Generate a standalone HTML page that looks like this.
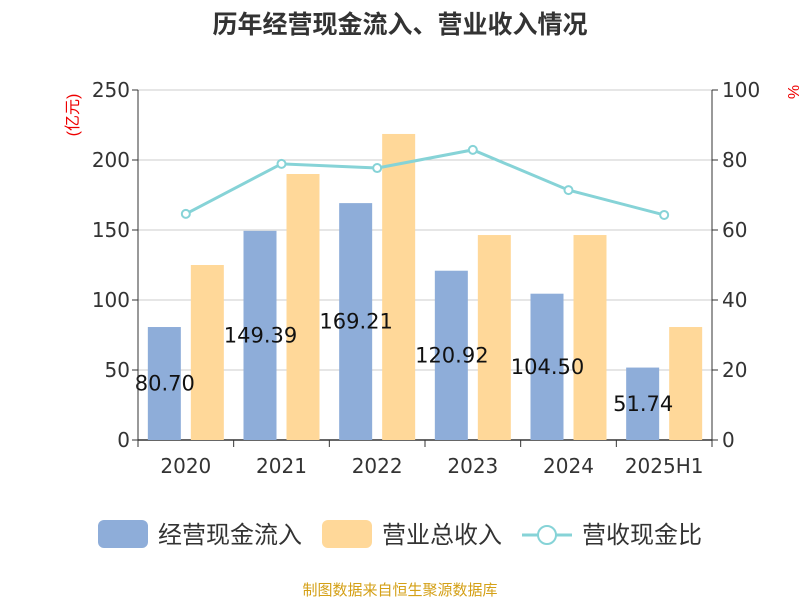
<!DOCTYPE html>
<html><head><meta charset="utf-8"><style>
body{margin:0;background:#fff;}
svg text{font-family:"DejaVu Sans","Noto Sans CJK SC",sans-serif;}
svg text.cjk{font-family:"Liberation Sans","Noto Sans CJK SC",sans-serif;}
</style></head><body>
<svg width="800" height="600" id="c">
<text class="cjk" x="400" y="33" text-anchor="middle" font-size="25" font-weight="bold" fill="#333">历年经营现金流入、营业收入情况</text>
<text class="cjk" x="78" y="115" font-size="16" fill="#e00" transform="rotate(-90 78 115)" text-anchor="middle">(亿元)</text>
<text class="cjk" x="788" y="92" font-size="16" fill="#e00" transform="rotate(90 788 92)" text-anchor="middle">%</text>
<g id="grid"></g><g id="bars"></g><g id="line"></g><g id="axes"></g>
<g>
<rect x="98" y="520" width="50" height="28" rx="6" fill="#8eadd9"/>
<text class="cjk" x="158" y="543" font-size="24" fill="#333">经营现金流入</text>
<rect x="322" y="520" width="50" height="28" rx="6" fill="#ffd899"/>
<text class="cjk" x="382" y="543" font-size="24" fill="#333">营业总收入</text>
<line x1="522" y1="535" x2="572" y2="535" stroke="#86d3d7" stroke-width="3"/>
<circle cx="547" cy="535" r="9" fill="#fff" stroke="#86d3d7" stroke-width="2"/>
<text class="cjk" x="582" y="543" font-size="24" fill="#333">营收现金比</text>
</g>
<text class="cjk" x="400" y="595" text-anchor="middle" font-size="15" fill="#d4a017">制图数据来自恒生聚源数据库</text>
</svg>
<script>
const categories=["2020","2021","2022","2023","2024","2025H1"];
const cashInflow=[80.70,149.39,169.21,120.92,104.50,51.74];
const revenue=[125,190,218.6,146.4,146.4,80.7];
const ratio=[64.6,78.9,77.7,82.9,71.4,64.3];
const leftTicks=[0,50,100,150,200,250];
const rightTicks=[0,20,40,60,80,100];
const NS="http://www.w3.org/2000/svg";
const X0=138,X1=712,Y0=440,Y1=90;
const band=(X1-X0)/categories.length;
const yL=v=>Y0-(v/250)*(Y0-Y1);
const yR=v=>Y0-(v/100)*(Y0-Y1);
const xC=i=>X0+band*(i+0.5);
function mk(t,a,p){const e=document.createElementNS(NS,t);for(const k in a)e.setAttribute(k,a[k]);p.appendChild(e);return e;}
const g=document.getElementById('grid'),b=document.getElementById('bars'),l=document.getElementById('line'),ax=document.getElementById('axes');
leftTicks.forEach((v,i)=>{
 const ln=mk('line',{x1:X0,x2:X1,y1:yL(v),y2:yL(v),stroke:v?'#ccc':'#333','stroke-width':v?1:1.5},g);
 
 
 const t=mk('text',{x:X0-8,y:yL(v)+7,'text-anchor':'end','font-size':20,fill:'#333'},ax);t.textContent=v;
 
 
 mk('line',{x1:X0-6,x2:X0,y1:yL(v),y2:yL(v),stroke:'#333'},ax);
});
rightTicks.forEach(v=>{
 const t=mk('text',{x:X1+10,y:yR(v)+7,'font-size':20,fill:'#333'},ax);t.textContent=v;
 
 
 mk('line',{x1:X1,x2:X1+6,y1:yR(v),y2:yR(v),stroke:'#333'},ax);
});
mk('line',{x1:X0,x2:X0,y1:Y1,y2:Y0,stroke:'#333'},ax);
mk('line',{x1:X1,x2:X1,y1:Y1,y2:Y0,stroke:'#333'},ax);
for(let i=0;i<=categories.length;i++)mk('line',{x1:X0+band*i,x2:X0+band*i,y1:Y0,y2:Y0+7,stroke:'#333'},ax);
categories.forEach((c,i)=>{
 const t=mk('text',{x:xC(i),y:473,'text-anchor':'middle','font-size':20,fill:'#333'},ax);t.textContent=c;
 
 
 const bw=33;
 const r1=mk('rect',{x:xC(i)-38,y:yL(cashInflow[i]),width:bw,height:Y0-yL(cashInflow[i]),fill:'#8eadd9'},b);
 
 
 const r2=mk('rect',{x:xC(i)+5,y:yL(revenue[i]),width:bw,height:Y0-yL(revenue[i]),fill:'#ffd899'},b);
 
 
 const lb=mk('text',{x:xC(i)-21,y:(yL(cashInflow[i])+Y0)/2+7,'text-anchor':'middle','font-size':21,fill:'#111'},b);
 lb.textContent=cashInflow[i].toFixed(2);
 
 
});
mk('polyline',{points:ratio.map((v,i)=>xC(i)+','+yR(v)).join(' '),fill:'none',stroke:'#86d3d7','stroke-width':3},l);
ratio.forEach((v,i)=>{
 const p=mk('circle',{cx:xC(i),cy:yR(v),r:4,fill:'#fff',stroke:'#86d3d7','stroke-width':2},l);
 
 
});
</script>
</body></html>
